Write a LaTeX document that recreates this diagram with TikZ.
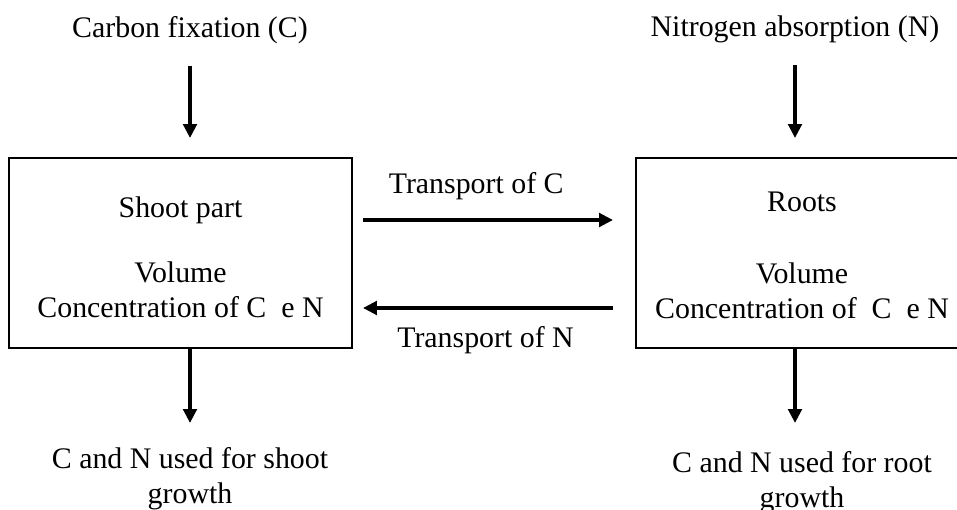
\documentclass[tikz,border=0pt]{standalone}
\usepackage{fontspec}
\setmainfont{Liberation Serif}
\usepackage{tikz}
\usetikzlibrary{calc,arrows.meta}

\begin{document}
\begin{tikzpicture}[x=0.02cm, y=-0.02cm,
    font=\fontsize{17}{20}\selectfont,
    txt/.style={inner sep=0pt, align=center},
    part/.style={draw, line width=0.04cm, inner sep=0pt, align=center, minimum height=3.8cm},
    flow/.style={line width=0.08cm, -{Triangle[length=0.28cm, width=0.27cm]}}]
                            \useasboundingbox (0,0) rectangle (957,510);

                            \node[part, minimum width=6.86cm] (shoot) at (180.5,253) {\rule{0pt}{0.6cm}Shoot part\\[0.6cm]Volume\\Concentration of C\ \ e N};
                            \node[part, minimum width=6.64cm] (roots) at (802,253) {\rule{0pt}{0.5cm}Roots\\[0.74cm]Volume\\Concentration of\ \ C\ \ e N};

                            \node[txt, anchor=base] (cfix) at (190,38) {Carbon fixation (C)};
                            \node[txt, anchor=base] (nabs) at (795,37) {Nitrogen absorption (N)};
                            \node[txt, anchor=north] (shootuse) at (190,447) {C and N used for shoot\\growth};
                            \node[txt, anchor=north] (rootuse) at (802,451) {C and N used for root\\growth};

                            % inputs from the top
                            \draw[flow, shorten <=0.42cm, shorten >=0.38cm] (cfix.south) -- (cfix.south |- shoot.north);
                            \draw[flow, shorten <=0.42cm, shorten >=0.38cm] (nabs.south) -- (nabs.south |- roots.north);

                            \draw[flow, shorten <=0.2cm, shorten >=0.44cm] ([yshift=0.66cm]shoot.east) -- ([yshift=0.66cm]shoot.east -| roots.west)
                                node[txt, above=0.36cm, pos=0.437] (tc) {Transport of C};
                            \draw[flow, shorten <=0.44cm, shorten >=0.2cm] ([yshift=-1.1cm]roots.west) -- ([yshift=-1.1cm]roots.west -| shoot.east)
                                node[txt, below=0.32cm, pos=0.53] (tn) {Transport of N};

                            % what is used for growth
                            \draw[flow, shorten >=0.48cm] (cfix |- shoot.south) -- (cfix |- shootuse.north);
                            \draw[flow, shorten >=0.56cm] (nabs |- roots.south) -- (nabs |- rootuse.north);
\end{tikzpicture}
\end{document}
